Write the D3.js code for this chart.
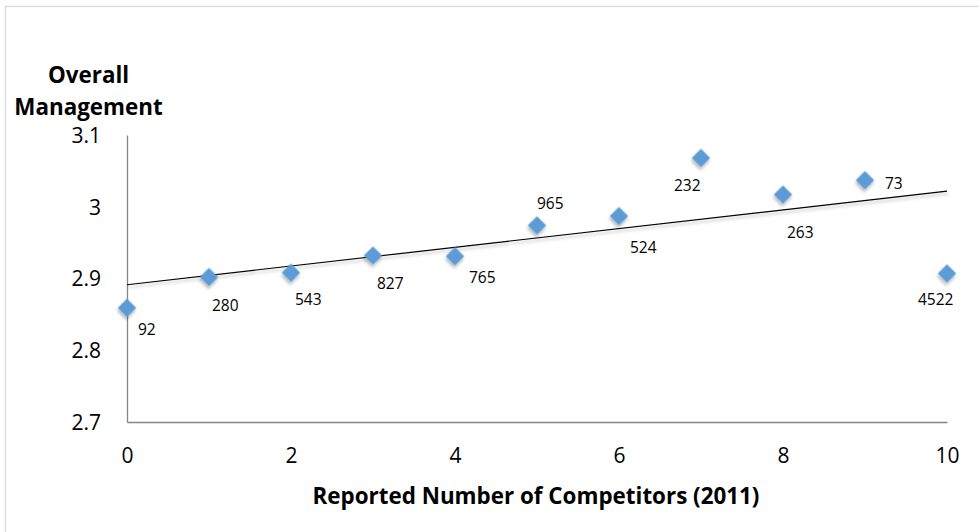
<!DOCTYPE html>
<html>
<head>
<meta charset="utf-8">
<script src="https://cdn.jsdelivr.net/npm/d3@7"></script>
<style>
  html, body { margin: 0; padding: 0; background: #fff; }
  svg { display: block; }
  text { font-family: "Open Sans", sans-serif; fill: #000; }
</style>
</head>
<body>
<svg id="chart" width="979" height="532"></svg>
<script>
// ---- data ----
const competitors = [0, 1, 2, 3, 4, 5, 6, 7, 8, 9, 10];
const management  = [2.859, 2.902, 2.908, 2.932, 2.931, 2.974, 2.987, 3.068, 3.017, 3.037, 2.907];
const sampleSizes = ["92", "280", "543", "827", "765", "965", "524", "232", "263", "73", "4522"];
const xTicks = [0, 2, 4, 6, 8, 10];
const yTicks = [2.7, 2.8, 2.9, 3.0, 3.1];
const xTitle = "Reported Number of Competitors (2011)";
const yTitleLines = ["Overall", "Management"];

// ---- layout (label offsets from each point, in px) ----
const labelDx = [11, 3, 4, 4, 14, 0, 11, -27, 4, 20, -29];
const labelDy = [27, 34, 32, 33, 27, -16, 37, 33, 43, 9, 32];

const FONT = '"Open Sans", sans-serif';
const svg = d3.select("#chart");
const W = 979, H = 532;

// outer chart border
svg.append("rect").attr("x", 5.5).attr("y", 6.5).attr("width", W + 10).attr("height", H + 10)
  .attr("fill", "#fff").attr("stroke", "#d9d9d9").attr("stroke-width", 1.3);

const x = d3.scaleLinear().domain([0, 10]).range([127, 947]);
const y = d3.scaleLinear().domain([2.7, 3.1]).range([422, 135]);

const defs = svg.append("defs");
const f = defs.append("filter").attr("id", "shadow").attr("x", "-50%").attr("y", "-50%").attr("width", "200%").attr("height", "200%");
f.append("feDropShadow").attr("dx", 1.5).attr("dy", 2.5).attr("stdDeviation", 1.8)
  .attr("flood-color", "#000").attr("flood-opacity", 0.28);

// axes
const xAxis = d3.axisBottom(x).tickValues(xTicks).tickSize(0).tickPadding(26).tickFormat(d3.format("d"));
const yAxis = d3.axisLeft(y).tickValues(yTicks).tickSize(0).tickPadding(26).tickFormat(d => d === 3 ? "3" : d3.format(".1f")(d));

const gx = svg.append("g").attr("transform", `translate(0,${y(2.7)})`).call(xAxis);
const gy = svg.append("g").attr("transform", `translate(${x(0)},0)`).call(yAxis);
[gx, gy].forEach(g => {
  g.select(".domain").attr("stroke", "#868686").attr("stroke-width", 1.3);
  g.selectAll("text").attr("font-size", 21).attr("fill", "#000").style("font-family", FONT);
});
gy.selectAll("text").attr("dy", "0.35em");

// trendline (least squares fit of the data)
const mx = d3.mean(competitors), my = d3.mean(management);
const slope = d3.sum(competitors, (c, i) => (c - mx) * (management[i] - my)) /
              d3.sum(competitors, c => (c - mx) * (c - mx));
const intercept = my - slope * mx;
svg.append("line")
  .attr("x1", x(0)).attr("y1", y(intercept))
  .attr("x2", x(10)).attr("y2", y(intercept + slope * 10))
  .attr("stroke", "#000").attr("stroke-width", 1.2)
  .attr("filter", "url(#shadow)");

// points
const diamond = d3.symbol().type(d3.symbolSquare).size(170);
svg.append("g").selectAll("path").data(competitors).join("path")
  .attr("d", diamond)
  .attr("transform", (d, i) => `translate(${x(d)},${y(management[i])}) rotate(45)`)
  .attr("fill", "#5b9bd5")
  .attr("filter", "url(#shadow)");

// data labels
svg.append("g").selectAll("text").data(competitors).join("text")
  .attr("x", (d, i) => x(d) + labelDx[i])
  .attr("y", (d, i) => y(management[i]) + labelDy[i])
  .attr("font-size", 15.5)
  .text((d, i) => sampleSizes[i]);

// axis titles
svg.append("text").attr("x", 536).attr("y", 504).attr("text-anchor", "middle")
  .attr("font-size", 22.4).attr("font-weight", "bold").text(xTitle);

svg.append("g").selectAll("text").data(yTitleLines).join("text")
  .attr("x", 88.5).attr("y", (d, i) => 83 + i * 32)
  .attr("text-anchor", "middle").attr("font-size", 22.4).attr("font-weight", "bold")
  .text(d => d);
</script>
</body>
</html>
